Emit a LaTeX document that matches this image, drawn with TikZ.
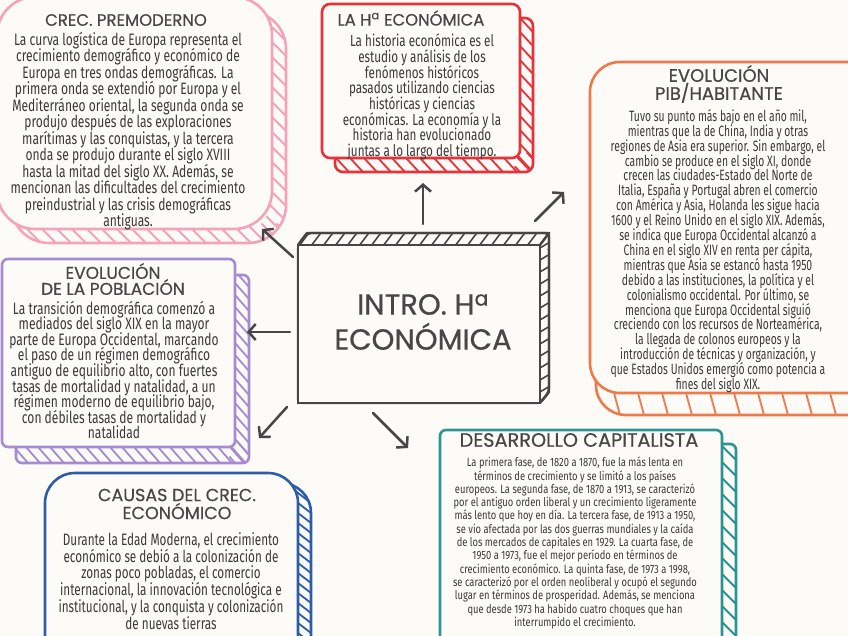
\documentclass[tikz,border=0pt]{standalone}
\usepackage{fontspec}
\usetikzlibrary{arrows.meta}
\newfontfamily\bodyA{Fira Sans}[FakeStretch=0.73]
\newfontfamily\bodyB{Fira Sans}[FakeStretch=0.71]
\newfontfamily\bodyC{Fira Sans}[FakeStretch=0.69]
\newfontfamily\bodyt{Fira Sans}[FakeStretch=0.78]
\newfontfamily\titlef{Poppins}[FakeBold=0.6]
\newcommand\tightlines{\lineskiplimit=-100pt\relax\lineskip=0pt\relax}
\definecolor{bgc}{HTML}{FCFBF7}
\definecolor{pinkc}{HTML}{F5A3B9}
\definecolor{redc}{HTML}{E83139}
\definecolor{orangec}{HTML}{EE7A4B}
\definecolor{purplec}{HTML}{A68BD3}
\definecolor{bluec}{HTML}{2D5DA8}
\definecolor{tealc}{HTML}{2B9394}
\definecolor{darkc}{HTML}{464646}
\definecolor{textc}{HTML}{3A3A3A}
\definecolor{titlec}{HTML}{474747}
\newcommand\bandbox[9]{%
 \draw[#1, line width=2.6pt, fill=bgc, rounded corners=#8] ({#2+#6},{#3+#7}) rectangle ({#4+#6},{#5+#7});
 \begin{scope}
 \clip[rounded corners=#8] ({#2+#6},{#3+#7}) rectangle ({#4+#6},{#5+#7});
 \foreach \i in {0,...,60}{
   \pgfmathsetmacro\py{#3+\i*#9}
   \draw[#1, line width=1.8pt] ({#4-0.4*#6},{\py-0.4*#7}) -- ({#4+1.6*#6},{\py+1.6*#7});
   \pgfmathsetmacro\px{#2+\i*#9}
   \draw[#1, line width=1.8pt] ({\px-0.4*#6},{#5-0.4*#7}) -- ({\px+1.6*#6},{#5+1.6*#7});
 }
 \end{scope}
 \draw[#1, line width=2.6pt, fill=bgc, rounded corners=#8] (#2,#3) rectangle (#4,#5);
}
\tikzset{
 body/.style={text=textc, align=center, inner sep=0pt},
 ttl/.style={text=titlec, align=center, inner sep=0pt},
 arr/.style={draw=darkc, line width=2.5pt, line cap=round, -{Straight Barb[length=7pt,width=16pt]}}
}
\begin{document}
\begin{tikzpicture}[x=1pt,y=-1pt]
\useasboundingbox (0,0) rectangle (848,636);
\fill[bgc] (0,0) rectangle (848,636);
\clip (0,0) rectangle (848,636);

% boxes
\bandbox{pinkc}{-3}{-3}{272}{229}{14}{14}{38pt}{15}
\bandbox{redc}{322}{4}{520}{158}{13}{14}{8pt}{14}
\bandbox{orangec}{590}{62}{880}{393}{6}{22}{30pt}{24}
\bandbox{purplec}{2}{259}{235}{447}{14}{16}{6pt}{12}
\bandbox{bluec}{45}{473}{298}{680}{13}{10}{30pt}{10}
\bandbox{tealc}{440}{430}{722}{680}{14}{14}{6pt}{16}

% central box
\draw[darkc, line width=2.4pt, fill=bgc, rounded corners=4pt] (307,233) -- (549,233) -- (549,392) -- (540,403) -- (298,403) -- (298,245) -- cycle;
\begin{scope}
 \clip (307,233) -- (549,233) -- (549,392) -- (540,403) -- (298,403) -- (298,245) -- cycle;
 \foreach \i in {0,...,25}{
   \pgfmathsetmacro\px{300+\i*12}
   \draw[darkc, line width=1.6pt] ({\px-4},{250}) -- ({\px+14},{226});
   \pgfmathsetmacro\py{245+\i*12}
   \draw[darkc, line width=1.6pt] (535,{\py+6}) -- (555,{\py-6});
 }
\end{scope}
\draw[darkc, line width=2.4pt, fill=bgc] (298,245) -- (540,245) -- (540,403) -- (298,403) -- cycle;
\draw[darkc, line width=2.4pt] (298,245) -- (307,233) -- (549,233) -- (549,392) -- (540,403);
\draw[darkc, line width=2.4pt] (540,245) -- (549,233);

% texts
\node[ttl, font=\titlef\fontsize{16.5}{17}\selectfont\tightlines] (t1) at (126,20) {CREC. PREMODERNO};
\node[body, font=\bodyA\fontsize{16.5}{16.5}\selectfont\tightlines] (b1) at (128,131) {La curva logística de Europa representa el\\crecimiento demográfico y económico de\\Europa en tres ondas demográficas. La\\primera onda se extendió por Europa y el\\Mediterráneo oriental, la segunda onda se\\produjo después de las exploraciones\\marítimas y las conquistas, y la tercera\\onda se produjo durante el siglo XVIII\\hasta la mitad del siglo XX. Además, se\\mencionan las dificultades del crecimiento\\preindustrial y las crisis demográficas\\antiguas.};

\node[ttl, font=\titlef\fontsize{16.4}{17}\selectfont\tightlines] (t2) at (411,18) {LA H\textsuperscript{a} ECONÓMICA};
\node[body, font=\bodyA\fontsize{16}{15.7}\selectfont\tightlines] (b2) at (422,97) {La historia económica es el\\estudio y análisis de los\\fenómenos históricos\\pasados utilizando ciencias\\históricas y ciencias\\económicas. La economía y la\\historia han evolucionado\\juntas a lo largo del tiempo.};

\node[ttl, font=\titlef\fontsize{18}{18}\selectfont\tightlines] (t3) at (719,84) {EVOLUCIÓN\\PIB/HABITANTE};
\node[body, font=\bodyC\fontsize{15}{14.9}\selectfont\tightlines] (b3) at (718,251) {Tuvo su punto más bajo en el año mil,\\mientras que la de China, India y otras\\regiones de Asia era superior. Sin embargo, el\\cambio se produce en el siglo XI, donde\\crecen las ciudades-Estado del Norte de\\Italia, España y Portugal abren el comercio\\con América y Asia, Holanda les sigue hacia\\1600 y el Reino Unido en el siglo XIX. Además,\\se indica que Europa Occidental alcanzó a\\China en el siglo XIV en renta per cápita,\\mientras que Asia se estancó hasta 1950\\debido a las instituciones, la política y el\\colonialismo occidental. Por último, se\\menciona que Europa Occidental siguió\\creciendo con los recursos de Norteamérica,\\la llegada de colonos europeos y la\\introducción de técnicas y organización, y\\que Estados Unidos emergió como potencia a\\fines del siglo XIX.};

\node[ttl, font=\titlef\fontsize{17}{16}\selectfont\tightlines] (t4) at (113,279) {EVOLUCIÓN\\DE LA POBLACIÓN};
\node[body, font=\bodyA\fontsize{16.5}{15.6}\selectfont\tightlines] (b4) at (114,370) {La transición demográfica comenzó a\\mediados del siglo XIX en la mayor\\parte de Europa Occidental, marcando\\el paso de un régimen demográfico\\antiguo de equilibrio alto, con fuertes\\tasas de mortalidad y natalidad, a un\\régimen moderno de equilibrio bajo,\\con débiles tasas de mortalidad y\\natalidad};

\node[ttl, font=\titlef\fontsize{17.5}{18}\selectfont\tightlines] (t5) at (177,504) {CAUSAS DEL CREC.\\ECONÓMICO};
\node[body, font=\bodyB\fontsize{16.5}{16.8}\selectfont\tightlines] (b5) at (171,581) {Durante la Edad Moderna, el crecimiento\\económico se debió a la colonización de\\zonas poco pobladas, el comercio\\internacional, la innovación tecnológica e\\institucional, y la conquista y colonización\\de nuevas tierras};

\node[ttl, font=\titlef\fontsize{19.3}{18}\selectfont\tightlines] (t6) at (579,440) {DESARROLLO CAPITALISTA};
\node[body, font=\bodyt\fontsize{12}{13.3}\selectfont\tightlines] (b6) at (575,543) {La primera fase, de 1820 a 1870, fue la más lenta en\\términos de crecimiento y se limitó a los países\\europeos. La segunda fase, de 1870 a 1913, se caracterizó\\por el antiguo orden liberal y un crecimiento ligeramente\\más lento que hoy en día. La tercera fase, de 1913 a 1950,\\se vio afectada por las dos guerras mundiales y la caída\\de los mercados de capitales en 1929. La cuarta fase, de\\1950 a 1973, fue el mejor período en términos de\\crecimiento económico. La quinta fase, de 1973 a 1998,\\se caracterizó por el orden neoliberal y ocupó el segundo\\lugar en términos de prosperidad. Además, se menciona\\que desde 1973 ha habido cuatro choques que han\\interrumpido el crecimiento.};

\node[ttl, font=\titlef\fontsize{29}{35}\selectfont\tightlines] (c) at (423,322) {INTRO. H\textsuperscript{a}\\ECONÓMICA};

% arrows
\coordinate (a1s) at (293,257); \coordinate (a1e) at (262,229);
\coordinate (a2s) at (423,224); \coordinate (a2e) at (423,183);
\coordinate (a3s) at (535,221); \coordinate (a3e) at (564,192);
\coordinate (a4s) at (290,332); \coordinate (a4e) at (247,332);
\coordinate (a5s) at (287,407); \coordinate (a5e) at (259,438);
\coordinate (a6s) at (373,413); \coordinate (a6e) at (408,448);
\draw[arr] (a1s) -- (a1e);
\draw[arr] (a2s) -- (a2e);
\draw[arr] (a3s) -- (a3e);
\draw[arr] (a4s) -- (a4e);
\draw[arr] (a5s) -- (a5e);
\draw[arr] (a6s) -- (a6e);
\end{tikzpicture}
\end{document}
